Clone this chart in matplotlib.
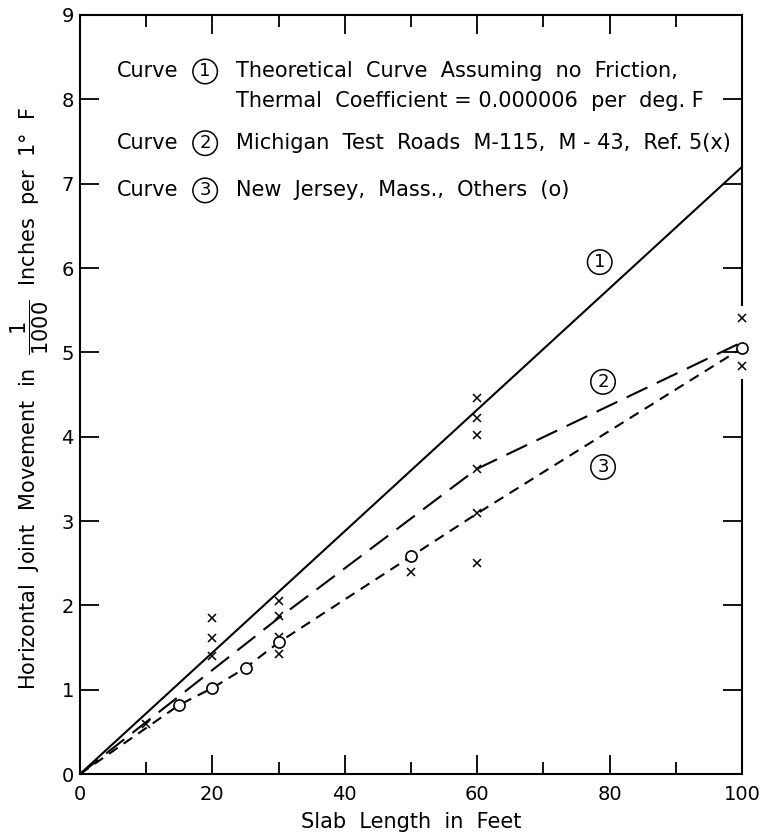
# Joint movement vs slab length
import matplotlib
matplotlib.use("Agg")
import matplotlib.pyplot as plt

plt.rcParams['font.family'] = ['DejaVu Sans']
plt.rcParams['mathtext.fontset'] = 'dejavusans'

# curve 1: theoretical, 0.000006 per deg F
theory_x = [0, 100]
theory_y = [0, 7.2]

# curve 2: Michigan test roads
mich_x = [0, 30, 60, 100]
mich_y = [0, 1.85, 3.62, 5.12]

# curve 3: New Jersey, Mass., others
nj_x = [0, 15, 20, 25, 30, 50, 60, 100]
nj_y = [0, 0.82, 1.02, 1.26, 1.56, 2.58, 3.09, 5.05]

# x points (Michigan)
xpts_x = [10, 20, 20, 20, 30, 30, 30, 30, 50, 60, 60, 60, 60, 60, 60, 100, 100]
xpts_y = [0.59, 1.85, 1.61, 1.40, 2.05, 1.87, 1.63, 1.42, 2.39,
          4.46, 4.22, 4.02, 3.62, 3.09, 2.50, 5.41, 4.84]

# o points (others)
opts_x = [15, 20, 25, 30, 50, 100]
opts_y = [0.82, 1.02, 1.26, 1.56, 2.58, 5.05]

fig = plt.figure(figsize=(7.65, 8.33), dpi=100)
ax = fig.add_axes([0.1046, 0.0708, 0.8654, 0.9112])

ax.plot(theory_x, theory_y, color='black', lw=1.5, solid_capstyle='butt')
ax.plot(mich_x, mich_y, color='black', lw=1.5, dashes=(11, 5))
ax.plot(nj_x, nj_y, color='black', lw=1.5, dashes=(5, 3.5))

ax.plot(xpts_x, xpts_y, ls='none', marker='x', ms=6, mew=1.1, color='black',
        clip_on=False, zorder=4)
ax.plot(opts_x, opts_y, ls='none', marker='o', ms=8, mew=1.2, mfc='white',
        mec='black', clip_on=False, zorder=5)

ax.set_xlim(0, 100)
ax.set_ylim(0, 9)
ax.set_xticks([0, 20, 40, 60, 80, 100])
ax.set_xticks([10, 30, 50, 70, 90], minor=True)
ax.set_yticks(range(10))

ax.tick_params(which='major', direction='in', length=14, width=1.3,
               top=True, right=True, labelsize=14, pad=4.5)
ax.tick_params(which='minor', direction='in', length=8.5, width=1.3,
               top=True, bottom=True)
ax.tick_params(axis='x', which='major', pad=8)

for s in ['left', 'bottom', 'top']:
    ax.spines[s].set_linewidth(1.5)
ax.spines['right'].set_visible(False)
# right edge is broken around the 100 ft points
ax.axvline(100, ymin=0, ymax=4.67 / 9, color='black', lw=1.5, clip_on=False)
ax.axvline(100, ymin=5.56 / 9, ymax=1, color='black', lw=1.5, clip_on=False)

ax.set_xlabel('Slab  Length  in  Feet', fontsize=15, labelpad=6)
ax.set_ylabel(r'Horizontal  Joint  Movement  in  $\dfrac{1}{1000}$  Inches  per  1°  F',
              fontsize=15, va='center')
ax.yaxis.set_label_coords(-0.0755, 0.495)

# legend block
fs = 15
rows = [(8.33, '1', 'Theoretical  Curve  Assuming  no  Friction,'),
        (7.48, '2', 'Michigan  Test  Roads  M-115,  M - 43,  Ref. 5(x)'),
        (6.92, '3', 'New  Jersey,  Mass.,  Others  (o)')]
circ = dict(boxstyle='circle,pad=0.18', fc='white', ec='black', lw=1.1)
for yy, num, txt in rows:
    ax.text(5.6, yy, 'Curve', fontsize=fs, va='center', ha='left')
    ax.text(18.9, yy, num, fontsize=13, va='center', ha='center', bbox=circ)
    ax.text(23.6, yy, txt, fontsize=fs, va='center', ha='left')
ax.text(23.6, 7.98, 'Thermal  Coefficient = 0.000006  per  deg. F', fontsize=fs,
        va='center', ha='left')

# curve labels
for xx, yy, num in [(78.5, 6.07, '1'), (79, 4.65, '2'), (79, 3.64, '3')]:
    ax.text(xx, yy, num, fontsize=13, va='center', ha='center', bbox=circ)

fig.savefig('out.png', dpi=100)
